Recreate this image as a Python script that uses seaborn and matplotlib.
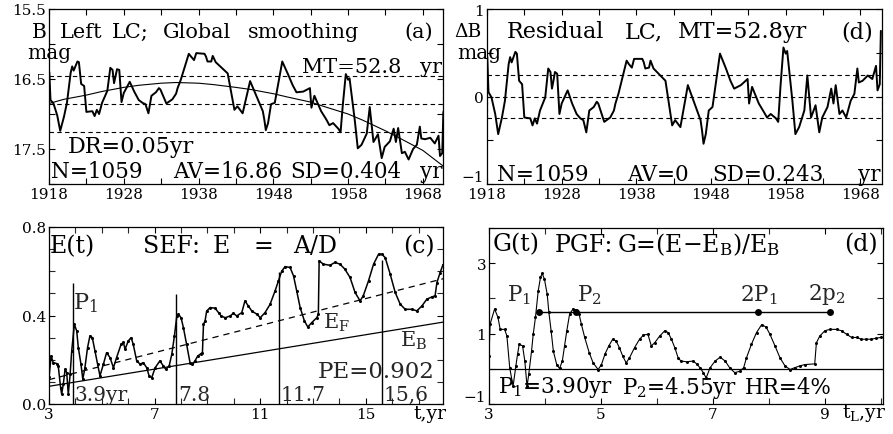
import numpy as np
import pandas as pd
import matplotlib
matplotlib.use('Agg')
import matplotlib.pyplot as plt
import seaborn as sns

sns.set_style('ticks')
plt.rcParams['font.family'] = ['DejaVu Serif']
plt.rcParams['mathtext.fontset'] = 'dejavuserif'

# ---------------- data ----------------
years = [1918.04, 1918.2, 1918.6, 1919.1, 1919.5, 1920.0, 1920.4, 1920.9, 1921.1, 1921.3,
         1921.8, 1922.0, 1922.3, 1922.7, 1923.0, 1923.8, 1924.1, 1924.4, 1924.7, 1925.1,
         1925.8, 1926.2, 1926.5, 1926.7, 1926.9, 1927.1, 1927.4, 1927.7, 1928.0, 1928.8,
         1929.4, 1930.0, 1930.5, 1930.9, 1931.3, 1931.7, 1932.3, 1932.7, 1932.9, 1933.7,
         1934.5, 1935.0, 1935.2, 1935.6, 1936.7, 1937.0, 1937.4, 1937.7, 1938.8, 1939.0,
         1939.2, 1939.7, 1939.9, 1940.3, 1941.9, 1942.8, 1943.2, 1943.9, 1944.9, 1946.6,
         1946.8, 1947.0, 1947.3, 1947.7, 1948.2, 1949.2, 1950.0, 1950.6, 1951.1, 1952.0,
         1952.9, 1953.1, 1953.5, 1954.4, 1955.1, 1955.5, 1956.0, 1956.7, 1957.0, 1957.3,
         1957.7, 1958.0, 1958.2, 1958.9, 1959.3, 1959.8, 1960.5, 1960.9, 1961.4, 1962.0,
         1962.5, 1962.9, 1963.6, 1964.1, 1964.4, 1964.7, 1965.2, 1965.6, 1966.1, 1966.7,
         1967.2, 1967.6, 1967.8, 1968.3, 1969.0, 1969.6, 1970.1, 1970.3, 1970.6, 1970.75]

lc_mag = [16.40, 16.80, 16.85, 17.02, 17.24, 17.04, 16.84, 16.41, 16.32, 16.38,
          16.25, 16.26, 16.57, 16.60, 16.97, 16.96, 17.03, 16.94, 17.00, 16.84,
          16.67, 16.34, 16.37, 16.56, 16.46, 16.36, 16.37, 16.83, 16.70, 16.54,
          16.68, 16.80, 16.84, 16.86, 16.99, 16.74, 16.69, 16.63, 16.65, 16.85,
          16.79, 16.71, 16.63, 16.52, 16.14, 16.18, 16.23, 16.13, 16.14, 16.18,
          16.25, 16.25, 16.17, 16.26, 16.42, 16.94, 16.89, 16.99, 16.53, 16.96,
          17.08, 17.23, 17.13, 16.86, 16.84, 16.25, 16.44, 16.59, 16.69, 16.68,
          16.63, 16.91, 16.74, 16.96, 17.08, 17.16, 17.13, 17.21, 17.26, 16.87,
          16.43, 16.51, 16.49, 17.09, 17.49, 17.44, 17.28, 16.90, 17.40, 17.29,
          17.63, 17.47, 17.39, 17.21, 17.40, 17.20, 17.56, 17.54, 17.65, 17.50,
          17.44, 17.18, 17.35, 17.36, 17.34, 17.42, 17.31, 17.60, 17.56, 16.97]

residual = [0.45, 0.05, -0.01, -0.20, -0.43, -0.24, -0.05, 0.37, 0.45, 0.39,
            0.51, 0.49, 0.18, 0.14, -0.24, -0.25, -0.33, -0.25, -0.31, -0.16,
            -0.01, 0.32, 0.28, 0.09, 0.18, 0.28, 0.26, -0.20, -0.08, 0.07,
            -0.08, -0.20, -0.25, -0.27, -0.41, -0.16, -0.12, -0.06, -0.08, -0.29,
            -0.24, -0.16, -0.08, 0.03, 0.41, 0.37, 0.33, 0.43, 0.43, 0.39,
            0.32, 0.33, 0.41, 0.32, 0.18, -0.33, -0.27, -0.35, 0.13, -0.27,
            -0.39, -0.54, -0.43, -0.16, -0.12, 0.49, 0.32, 0.18, 0.09, 0.13,
            0.20, -0.08, 0.11, -0.08, -0.18, -0.24, -0.20, -0.25, -0.29, 0.11,
            0.56, 0.49, 0.52, -0.05, -0.43, -0.35, -0.16, 0.24, -0.24, -0.10,
            -0.41, -0.24, -0.12, 0.09, -0.08, 0.13, -0.20, -0.16, -0.24, -0.05,
            0.03, 0.32, 0.16, 0.18, 0.24, 0.20, 0.35, 0.07, 0.14, 0.75]

trend_year = [1918, 1920, 1923, 1925, 1928, 1930, 1933, 1935, 1938, 1940, 1943, 1945,
              1948, 1950, 1953, 1955, 1958, 1960, 1963, 1965, 1968, 1970.8]
trend_mag = [16.85, 16.79, 16.73, 16.68, 16.62, 16.59, 16.56, 16.55, 16.56, 16.58, 16.62, 16.65,
             16.71, 16.76, 16.83, 16.90, 17.00, 17.09, 17.24, 17.35, 17.52, 17.75]

av_a, sd_a = 16.86, 0.404
av_d, sd_d = 0.0, 0.243

e_t = [3.0, 3.08, 3.16, 3.29, 3.35, 3.44, 3.48, 3.54, 3.61, 3.67, 3.73, 3.80, 3.86, 3.96, 4.05,
       4.11, 4.21, 4.28, 4.36, 4.46, 4.55, 4.64, 4.74, 4.84, 4.93, 5.06, 5.18, 5.31, 5.44, 5.56,
       5.73, 5.82, 5.88, 6.0, 6.11, 6.19, 6.32, 6.45, 6.57, 6.70, 6.79, 6.89, 7.02, 7.20, 7.33,
       7.42, 7.55, 7.65, 7.75, 7.84, 7.90, 8.0, 8.09, 8.21, 8.34, 8.43, 8.53, 8.63, 8.76, 8.81,
       8.85, 8.91, 8.97, 9.10, 9.29, 9.42, 9.52, 9.67, 9.86, 9.98, 10.11, 10.30, 10.42, 10.55, 10.68,
       10.87, 11.0, 11.18, 11.37, 11.56, 11.69, 11.81, 11.94, 12.13, 12.26, 12.38, 12.51, 12.67, 12.80, 12.95,
       13.14, 13.20, 13.23, 13.39, 13.64, 13.83, 14.02, 14.20, 14.40, 14.59, 14.78, 14.90, 15.10, 15.29, 15.48,
       15.60, 15.73, 15.92, 16.11, 16.30, 16.49, 16.74, 16.93, 17.12, 17.31, 17.50, 17.62, 17.69, 17.80, 17.92]
e_val = [0.12, 0.217, 0.187, 0.183, 0.172, 0.074, 0.044, 0.089, 0.157, 0.142, 0.044, 0.134, 0.24, 0.36, 0.33,
         0.255, 0.18, 0.112, 0.164, 0.255, 0.308, 0.30, 0.24, 0.18, 0.127, 0.18, 0.232, 0.21, 0.164, 0.21,
         0.27, 0.278, 0.247, 0.285, 0.30, 0.27, 0.195, 0.18, 0.187, 0.164, 0.127, 0.119, 0.164, 0.195, 0.172,
         0.157, 0.172, 0.225, 0.308, 0.398, 0.406, 0.39, 0.345, 0.27, 0.187, 0.18, 0.195, 0.217, 0.228, 0.232,
         0.36, 0.376, 0.42, 0.436, 0.433, 0.413, 0.398, 0.39, 0.398, 0.41, 0.398, 0.413, 0.466, 0.443, 0.42,
         0.406, 0.39, 0.413, 0.45, 0.511, 0.557, 0.60, 0.621, 0.617, 0.579, 0.511, 0.436, 0.376, 0.348, 0.368,
         0.39, 0.406, 0.647, 0.632, 0.627, 0.64, 0.632, 0.61, 0.572, 0.504, 0.466, 0.489, 0.557, 0.632, 0.677,
         0.677, 0.662, 0.587, 0.504, 0.451, 0.428, 0.428, 0.421, 0.443, 0.474, 0.484, 0.489, 0.549, 0.59, 0.63]

eb_t, eb_val = [3.0, 17.92], [0.08, 0.37]
ef_t, ef_val = [3.0, 17.92], [0.11, 0.566]
period_t = [3.9, 7.8, 11.7, 15.6]
period_top = [0.546, 0.498, 0.596, 0.649]
period_lbl = ['3.9yr', '7.8', '11.7', '15,6']

g_t = [3.0, 3.02, 3.10, 3.16, 3.20, 3.28, 3.32, 3.37, 3.43, 3.48, 3.51, 3.54, 3.60, 3.64, 3.68,
       3.71, 3.76, 3.79, 3.83, 3.88, 3.92, 3.95, 3.99, 4.04, 4.07, 4.11, 4.15, 4.21, 4.26, 4.31,
       4.35, 4.39, 4.44, 4.50, 4.56, 4.61, 4.65, 4.71, 4.79, 4.86, 4.95, 5.01, 5.07, 5.14, 5.21,
       5.27, 5.33, 5.39, 5.45, 5.51, 5.60, 5.69, 5.76, 5.84, 5.90, 5.96, 6.05, 6.14, 6.20, 6.26,
       6.32, 6.38, 6.43, 6.53, 6.65, 6.71, 6.77, 6.83, 6.88, 6.95, 7.04, 7.13, 7.22, 7.30, 7.39,
       7.48, 7.55, 7.60, 7.69, 7.78, 7.87, 7.95, 8.02, 8.11, 8.20, 8.29, 8.38, 8.46, 8.55, 8.64,
       8.82, 8.85, 8.91, 9.00, 9.09, 9.21, 9.30, 9.39, 9.48, 9.57, 9.65, 9.74, 9.83, 9.92, 10.0]
g_val = [0.36, 1.27, 1.70, 1.46, 1.12, 1.12, 0.93, 0.03, -0.50, 0.08, 0.41, 0.70, 0.65, 0.22, -0.50,
         -0.16, 0.50, 0.98, 1.46, 2.22, 2.60, 2.71, 2.55, 2.12, 1.60, 1.08, 0.50, 0.12, 0.01, 0.22,
         0.65, 1.08, 1.55, 1.70, 1.67, 1.55, 1.27, 0.89, 0.46, 0.17, -0.02, 0.12, 0.41, 0.65, 0.84,
         0.79, 0.60, 0.36, 0.17, 0.31, 0.60, 0.84, 0.96, 0.98, 0.65, 0.74, 0.93, 1.08, 1.03, 0.84,
         0.60, 0.31, 0.22, 0.20, 0.22, 0.14, 0.03, -0.11, -0.26, 0.03, 0.22, 0.33, 0.22, 0.03, -0.11,
         -0.07, 0.03, 0.31, 0.70, 1.03, 1.25, 1.19, 0.98, 0.65, 0.31, 0.08, -0.02, 0.03, 0.08, 0.12,
         0.14, 0.74, 0.93, 1.08, 1.12, 1.12, 1.08, 0.98, 0.89, 0.89, 0.84, 0.84, 0.84, 0.87, 0.89]

peak_t = [3.90, 4.55, 7.80, 9.10]
peak_level = [1.62, 1.62, 1.62, 1.62]

# ---------------- figure ----------------
W, H = 893, 435
fig = plt.figure(figsize=(W / 100, H / 100), dpi=100)


def add_ax(x0, x1, y0, y1):
    return fig.add_axes([x0 / W, 1 - y1 / H, (x1 - x0) / W, (y1 - y0) / H])


axA = add_ax(49, 443, 10, 185)
axD = add_ax(487, 882, 10, 185)
axC = add_ax(49, 443, 228, 405)
axG = add_ax(489, 883, 229, 405)

for ax in (axA, axD, axC, axG):
    for s in ax.spines.values():
        s.set_visible(True)
        s.set_color('black')
        s.set_linewidth(0.9)
    ax.tick_params(direction='in', top=True, right=True, length=4, width=0.8,
                   labelsize=11, pad=2, colors='black')
    ax.tick_params(which='minor', direction='in', top=True, right=True, length=4, width=0.8)


def txt(ax, x, y, s, size, ha='left', va='center'):
    ax.text(x, y, s, transform=ax.transAxes, fontsize=size, ha=ha, va=va,
            clip_on=False, color='black')


# ---- panel (a) ----
dfA = pd.DataFrame({'year': years, 'mag': lc_mag})
dfT = pd.DataFrame({'year': trend_year, 'mag': trend_mag})
sns.lineplot(data=dfA, x='year', y='mag', ax=axA, color='black', lw=1.4,
             estimator=None, sort=False)
sns.lineplot(data=dfT, x='year', y='mag', ax=axA, color='black', lw=0.8,
             estimator=None, sort=False)
xlA = (1918, 1970.7)
for v in (av_a - sd_a, av_a, av_a + sd_a):
    axA.axhline(v, color='black', lw=0.8, ls=(0, (4, 3)))
axA.vlines(xlA, av_a - sd_a, av_a + sd_a, color='black', lw=0.8, ls=(0, (3, 3)))
axA.set_xlim(*xlA)
axA.set_ylim(18.0, 15.5)
axA.set_xticks(list(range(1918, 1970, 5)),
               [str(y) if (y - 1918) % 10 == 0 else '' for y in range(1918, 1970, 5)])
axA.set_yticks([15.5, 16.0, 16.5, 17.0, 17.5, 18.0], ['15.5', '', '16.5', '', '17.5', ''])
axA.set_xlabel('')
axA.set_ylabel('')

txt(axA, -0.043, 0.874, 'B', 14.5)
txt(axA, -0.056, 0.754, 'mag', 14.5)
txt(axA, 0.028, 0.874, 'Left', 15)
txt(axA, 0.160, 0.874, 'LC;', 15)
txt(axA, 0.289, 0.874, 'Global', 15)
txt(axA, 0.505, 0.874, 'smoothing', 15)
txt(axA, 0.975, 0.874, '(a)', 15, ha='right')
txt(axA, 0.642, 0.674, 'MT=52.8', 15)
txt(axA, 0.998, 0.674, 'yr', 15, ha='right')
txt(axA, 0.048, 0.217, 'DR=0.05yr', 16)
txt(axA, 0.005, 0.074, 'N=1059', 15.5)
txt(axA, 0.315, 0.074, 'AV=16.86', 15.5)
txt(axA, 0.612, 0.074, 'SD=0.404', 15.5)
txt(axA, 0.998, 0.074, 'yr', 15.5, ha='right')

# ---- panel (d) residual ----
dfD = pd.DataFrame({'year': years, 'res': residual})
sns.lineplot(data=dfD, x='year', y='res', ax=axD, color='black', lw=1.4,
             estimator=None, sort=False)
xlD = (1918, 1970.9)
for v in (av_d - sd_d, av_d, av_d + sd_d):
    axD.axhline(v, color='black', lw=0.8, ls=(0, (4, 3)))
axD.vlines(xlD, av_d - sd_d, av_d + sd_d, color='black', lw=0.8, ls=(0, (3, 3)))
axD.set_xlim(*xlD)
axD.set_ylim(-1, 1)
axD.set_xticks(list(range(1918, 1970, 5)),
               [str(y) if (y - 1918) % 10 == 0 else '' for y in range(1918, 1970, 5)])
axD.set_yticks([-1, -0.5, 0, 0.5, 1], ['\u22121', '', '0', '', '1'])
axD.get_yticklabels()[0].set_va('bottom')
axD.set_xlabel('')
axD.set_ylabel('')

txt(axD, -0.084, 0.874, '\u0394B', 13.5)
txt(axD, -0.076, 0.754, 'mag', 14.5)
txt(axD, 0.051, 0.874, 'Residual', 16)
txt(axD, 0.349, 0.874, 'LC,', 16)
txt(axD, 0.484, 0.874, 'MT=52.8yr', 16)
txt(axD, 0.977, 0.874, '(d)', 16, ha='right')
txt(axD, 0.025, 0.057, 'N=1059', 15.5)
txt(axD, 0.354, 0.057, 'AV=0', 15.5)
txt(axD, 0.570, 0.057, 'SD=0.243', 15.5)
txt(axD, 0.939, 0.057, 'yr', 15.5)

# ---- panel (c) SEF ----
dfE = pd.DataFrame({'t': e_t, 'E': e_val})
sns.lineplot(data=dfE, x='t', y='E', ax=axC, color='black', lw=1.1, marker='o',
             markersize=2.2, markeredgewidth=0, estimator=None, sort=False)
sns.lineplot(x=eb_t, y=eb_val, ax=axC, color='black', lw=0.9, estimator=None)
sns.lineplot(x=ef_t, y=ef_val, ax=axC, color='black', lw=0.9, ls=(0, (5, 4)), estimator=None)
axC.vlines(period_t, 0, period_top, color='black', lw=1.0)
axC.set_xlim(3, 17.92)
axC.set_ylim(0, 0.8)
axC.set_xticks([3, 7, 11, 15], ['3', '7', '11', '15'])
axC.set_xticks(list(range(4, 18)), minor=True)
axC.set_yticks([0.0, 0.4, 0.8], ['0.0', '0.4', '0.8'])
axC.set_yticks([0.1, 0.2, 0.3, 0.5, 0.6, 0.7], minor=True)
axC.set_xlabel('')
axC.set_ylabel('')

txt(axC, 0.003, 0.894, 'E(t)', 17)
txt(axC, 0.239, 0.894, 'SEF:', 17)
txt(axC, 0.416, 0.894, 'E', 17)
txt(axC, 0.518, 0.894, '=', 17)
txt(axC, 0.619, 0.894, 'A/D', 17)
txt(axC, 0.978, 0.894, '(c)', 17, ha='right')
axC.text(3.91, 0.46, 'P$_1$', fontsize=16, ha='left', va='center')
for tt, lb in zip(period_t, period_lbl):
    axC.text(tt + 0.08, 0.045, lb, fontsize=14.5, ha='left', va='center')
axC.text(13.38, 0.372, 'E$_\\mathrm{F}$', fontsize=15, ha='left', va='center')
axC.text(16.3, 0.29, 'E$_\\mathrm{B}$', fontsize=15, ha='left', va='center')
axC.text(13.19, 0.149, 'PE=0.902', fontsize=16.5, ha='left', va='center')
txt(axC, 0.924, -0.05, 't,yr', 13.5)

# ---- panel (g) PGF ----
dfG = pd.DataFrame({'t': g_t, 'G': g_val})
sns.lineplot(data=dfG, x='t', y='G', ax=axG, color='black', lw=0.8, marker='o',
             markersize=2.2, markeredgewidth=0, estimator=None, sort=False)
axG.axhline(0, color='black', lw=0.9)
sns.lineplot(x=peak_t, y=peak_level, ax=axG, color='black', lw=1.0, marker='o',
             markersize=5, markeredgewidth=0, estimator=None)
axG.set_xlim(3, 10.04)
axG.set_ylim(-1, 4)
axG.set_xticks([3, 5, 7, 9], ['3', '5', '7', '9'])
axG.set_xticks([4, 6, 8, 10], minor=True)
axG.set_yticks([-1, 1, 3], ['\u22121', '1', '3'])
axG.set_yticks([0, 2, 4], minor=True)
axG.get_yticklabels()[0].set_va('bottom')
axG.set_xlabel('')
axG.set_ylabel('')

txt(axG, 0.008, 0.909, 'G(t)', 17)
txt(axG, 0.168, 0.909, 'PGF:', 17)
txt(axG, 0.325, 0.909, 'G=(E\u2212E$_\\mathrm{B}$)/E$_\\mathrm{B}$', 17)
txt(axG, 0.987, 0.909, '(d)', 17, ha='right')
for tt, lb in zip([3.32, 4.57, 7.48, 8.70], ['P$_1$', 'P$_2$', '2P$_1$', '2p$_2$']):
    axG.text(tt, 2.13, lb, fontsize=15.5, ha='left', va='center')
txt(axG, 0.023, 0.097, 'P$_1$=3.90yr', 15.5)
txt(axG, 0.338, 0.097, 'P$_2$=4.55yr', 15.5)
txt(axG, 0.650, 0.097, 'HR=4%', 15.5)
txt(axG, 0.896, -0.05, 't$_\\mathrm{L}$,yr', 13.5)

fig.savefig('out.png', dpi=100)
